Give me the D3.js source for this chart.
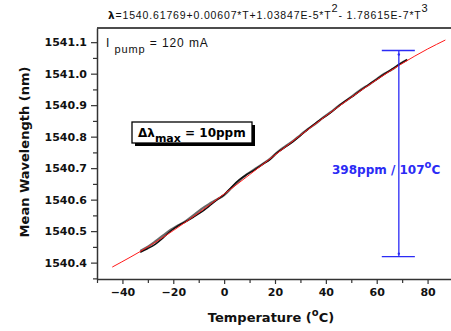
<!DOCTYPE html>
<html>
<head>
<meta charset="utf-8">
<script src="https://cdn.jsdelivr.net/npm/d3@7"></script>
<style>
body { margin: 0; background: #fff; }
svg { display: block; }
.tick text { font-family: "DejaVu Sans", sans-serif; font-weight: bold; font-size: 11px; fill: #111; }
</style>
</head>
<body>
<div id="chart"></div>
<script>
// measured runs (temperature in C, wavelength in nm)
var temps = [-33, -30, -27, -24, -21, -18, -15, -12, -9, -6, -3, 0, 3, 6, 9, 12, 15, 18,
  21, 24, 27, 30, 33, 36, 39, 42, 45, 48, 51, 54, 57, 60, 63, 66, 69, 72];
var blackRun = [1540.4331, 1540.4448, 1540.4589, 1540.4785, 1540.5005, 1540.5178, 1540.5306,
  1540.5447, 1540.5600, 1540.5787, 1540.5986, 1540.6157, 1540.6410, 1540.6635, 1540.6800,
  1540.6947, 1540.7115, 1540.7273, 1540.7501, 1540.7669, 1540.7836, 1540.8033, 1540.8239,
  1540.8433, 1540.8596, 1540.8767, 1540.8966, 1540.9152, 1540.9306, 1540.9486, 1540.9663,
  1540.9817, 1540.9987, 1541.0142, 1541.0303, 1541.0449];
var grayRun = [1540.4371, 1540.4508, 1540.4679, 1540.4865, 1540.5045, 1540.5188, 1540.5326,
  1540.5507, 1540.5700, 1540.5857, 1540.5996, 1540.6147, 1540.6380, 1540.6605, 1540.6810,
  1540.6967, 1540.7125, 1540.7293, 1540.7511, 1540.7689, 1540.7856, 1540.8053, 1540.8249,
  1540.8413, 1540.8616, 1540.8787, 1540.8976, 1540.9142, 1540.9326, 1540.9506, 1540.9653,
  1540.9827, 1540.9997, 1541.0132, 1541.0303, 1541.0439];

// fitted curve values
var fitTemps = [-44, -30, -20, -10, 0, 10, 20, 30, 40, 50, 60, 70, 80, 87];
var fitValues = [1540.3859, 1540.4498, 1540.5019, 1540.5582, 1540.6177, 1540.6793, 1540.7418,
  1540.8043, 1540.8657, 1540.9248, 1540.9807, 1541.0322, 1541.0783, 1541.1068];

// blue span annotation
var spanTemp = 68.7;
var spanTempRange = [62, 75];
var spanValues = [1541.0735, 1540.419];

var xTicks = [-40, -20, 0, 20, 40, 60, 80];
var xMinorTicks = [-50, -30, -10, 10, 30, 50, 70, 90];
var yTicks = [1540.4, 1540.5, 1540.6, 1540.7, 1540.8, 1540.9, 1541.0, 1541.1];
var yMinorTicks = [1540.35, 1540.45, 1540.55, 1540.65, 1540.75, 1540.85, 1540.95, 1541.05];

var svgWidth = 451;
var svgHeight = 331;
var margin = { top: 28, left: 97 };
var width = 356;
var height = 251;

var svg = d3.select("#chart")
  .append("svg")
  .attr("width", svgWidth)
  .attr("height", svgHeight);

var chartGroup = svg.append("g")
  .attr("transform", `translate(${margin.left}, ${margin.top})`);

var xScale = d3.scaleLinear().domain([-50, 90]).range([0, width]);
var yScale = d3.scaleLinear().domain([1540.348, 1541.145]).range([height, 0]);

// top frame line
chartGroup.append("line")
  .attr("x1", 0).attr("x2", width)
  .attr("y1", 0).attr("y2", 0)
  .attr("stroke", "#111").attr("stroke-width", 1.3);

// minor ticks
chartGroup.append("g")
  .attr("transform", `translate(0, ${height})`)
  .call(d3.axisBottom(xScale).tickValues(xMinorTicks).tickSize(4).tickFormat(""))
  .call(g => g.select(".domain").remove())
  .selectAll("line").attr("stroke", "#333").attr("stroke-width", 1.2);

chartGroup.append("g")
  .call(d3.axisLeft(yScale).tickValues(yMinorTicks).tickSize(4).tickFormat(""))
  .call(g => g.select(".domain").remove())
  .selectAll("line").attr("stroke", "#333").attr("stroke-width", 1.2);

// major axes
var bottomAxis = d3.axisBottom(xScale).tickValues(xTicks).tickSize(5).tickSizeOuter(0).tickPadding(4);
var leftAxis = d3.axisLeft(yScale).tickValues(yTicks).tickSize(6).tickSizeOuter(0).tickPadding(4)
  .tickFormat(d3.format(".1f"));

var xAxisG = chartGroup.append("g")
  .attr("transform", `translate(0, ${height})`)
  .call(bottomAxis);
var yAxisG = chartGroup.append("g")
  .call(leftAxis);

[xAxisG, yAxisG].forEach(function(g) {
  g.select(".domain").attr("stroke", "#333").attr("stroke-width", 1.5);
  g.selectAll(".tick line").attr("stroke", "#333").attr("stroke-width", 1.2);
});

// data runs
var line = d3.line()
  .x((d, i) => xScale(temps[i]))
  .y(d => yScale(d))
  .curve(d3.curveCatmullRom);

chartGroup.append("path")
  .attr("d", line(grayRun))
  .attr("fill", "none")
  .attr("stroke", "#6a6a6a")
  .attr("stroke-width", 2.2);

chartGroup.append("path")
  .attr("d", line(blackRun))
  .attr("fill", "none")
  .attr("stroke", "#111")
  .attr("stroke-width", 1.5);

// fit
var fitLine = d3.line()
  .x((d, i) => xScale(fitTemps[i]))
  .y(d => yScale(d))
  .curve(d3.curveMonotoneX);

chartGroup.append("path")
  .attr("d", fitLine(fitValues))
  .attr("fill", "none")
  .attr("stroke", "#ff1a1a")
  .attr("stroke-width", 1);

// blue span
var blue = "#2b2bf5";
chartGroup.append("line")
  .attr("x1", xScale(spanTemp)).attr("x2", xScale(spanTemp))
  .attr("y1", yScale(spanValues[0])).attr("y2", yScale(spanValues[1]))
  .attr("stroke", blue).attr("stroke-width", 1.3);
spanValues.forEach(function(v) {
  chartGroup.append("line")
    .attr("x1", xScale(spanTempRange[0])).attr("x2", xScale(spanTempRange[1]))
    .attr("y1", yScale(v)).attr("y2", yScale(v))
    .attr("stroke", blue).attr("stroke-width", 1.3);
});
chartGroup.append("circle").attr("cx", xScale(spanTemp)).attr("cy", yScale(spanValues[0]) + 4).attr("r", 1.2).attr("fill", blue);
chartGroup.append("circle").attr("cx", xScale(spanTemp)).attr("cy", yScale(spanValues[1]) - 3).attr("r", 1.2).attr("fill", blue);

var spanText = svg.append("text")
  .attr("x", 332).attr("y", 174)
  .attr("font-family", "DejaVu Sans, sans-serif")
  .attr("font-weight", "bold")
  .attr("font-size", 12)
  .attr("fill", blue);
spanText.append("tspan").text("398ppm / 107");
spanText.append("tspan").attr("font-size", 10).attr("dy", -6).text("o");
spanText.append("tspan").attr("dy", 6).text("C");

// delta lambda box
svg.append("rect").attr("x", 135).attr("y", 125).attr("width", 120).attr("height", 21).attr("fill", "#000");
svg.append("rect").attr("x", 132).attr("y", 122).attr("width", 120).attr("height", 21)
  .attr("fill", "#fff").attr("stroke", "#000").attr("stroke-width", 1.3);
var boxText = svg.append("text")
  .attr("x", 138).attr("y", 137)
  .attr("font-family", "DejaVu Sans, sans-serif")
  .attr("font-weight", "bold")
  .attr("font-size", 12)
  .attr("fill", "#000");
boxText.append("tspan").text("Δλ");
boxText.append("tspan").attr("dy", 5).attr("font-size", 11).text("max");
boxText.append("tspan").attr("dy", -5).text(" = 10ppm");

// pump current
var pumpText = svg.append("text")
  .attr("x", 106).attr("y", 47)
  .attr("font-family", "Liberation Sans, Arial, sans-serif")
  .attr("font-size", 12)
  .attr("letter-spacing", 0.9)
  .attr("fill", "#111");
pumpText.append("tspan").text("I ");
pumpText.append("tspan").attr("dy", 6).attr("font-size", 11).text("pump");
pumpText.append("tspan").attr("dy", -6).text(" = 120 mA");

// fit equation
var title = svg.append("text")
  .attr("x", 108).attr("y", 19)
  .attr("font-family", "Liberation Sans, Arial, sans-serif")
  .attr("font-size", 10.5)
  .attr("letter-spacing", 0.85)
  .attr("fill", "#111");
title.append("tspan").attr("font-weight", "bold").attr("font-family", "DejaVu Sans, sans-serif").text("λ");
title.append("tspan").text("=1540.61769+0.00607*T+1.03847E-5*T");
title.append("tspan").attr("dy", -7).attr("font-size", 11).text("2");
title.append("tspan").attr("dy", 7).text("- 1.78615E-7*T");
title.append("tspan").attr("dy", -7).attr("font-size", 11).text("3");

// axis titles
svg.append("text")
  .attr("transform", "translate(29, 152) rotate(-90)")
  .attr("text-anchor", "middle")
  .attr("font-family", "DejaVu Sans, sans-serif")
  .attr("font-weight", "bold")
  .attr("font-size", 13)
  .attr("fill", "#111")
  .text("Mean Wavelength (nm)");

var xTitle = svg.append("text")
  .attr("x", 271).attr("y", 322)
  .attr("text-anchor", "middle")
  .attr("font-family", "DejaVu Sans, sans-serif")
  .attr("font-weight", "bold")
  .attr("font-size", 13)
  .attr("fill", "#111");
xTitle.append("tspan").text("Temperature (");
xTitle.append("tspan").attr("dy", -6).attr("font-size", 10).text("o");
xTitle.append("tspan").attr("dy", 6).text("C)");
</script>
</body>
</html>
